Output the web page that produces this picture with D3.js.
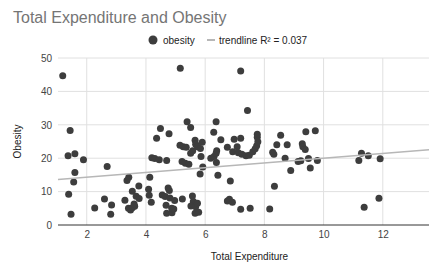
<!DOCTYPE html>
<html>
<head>
<meta charset="utf-8">
<script src="https://cdn.jsdelivr.net/npm/d3@7"></script>
<style>
  body { margin: 0; background: #fff; }
  svg { font-family: "Liberation Sans", Arial, sans-serif; }
</style>
</head>
<body>
<div id="chart"></div>
<script>
// total expenditure (x) and obesity (y)
const expenditure = [
  1.19, 1.44, 1.37, 1.60, 1.89, 1.60, 1.56, 1.39, 1.47, 2.27, 2.69, 2.60, 2.84, 2.81,
  3.29, 3.36, 3.42, 3.41, 3.54, 3.48, 3.62, 3.54, 3.67, 3.77, 3.76, 3.60,
  4.13, 4.09, 4.11, 4.18, 4.55, 4.65, 4.75, 4.79, 4.81, 4.68, 4.70, 4.88, 4.97, 4.94, 4.87,
  5.23, 5.57, 5.60, 5.52, 5.68, 5.74, 5.66, 5.78,
  5.16, 7.20, 7.43, 5.39, 5.51, 6.37, 4.49, 4.78, 4.36, 6.29, 6.53,
  5.66, 5.68, 5.74, 5.90, 5.84, 5.15, 5.26, 5.36, 5.51, 5.58,
  4.20, 4.30, 4.45, 4.70, 5.22, 5.33, 5.45, 5.86, 5.92, 5.83,
  6.19, 6.30, 6.39, 6.38, 6.37, 6.43, 6.75, 6.93, 7.08, 6.98, 7.20,
  7.12, 7.24, 7.38, 7.49, 7.61, 7.69, 7.74, 7.78, 7.76, 7.76,
  6.85, 6.75, 6.82, 6.92, 7.20, 7.52, 8.18, 8.34, 8.28, 8.32, 8.42, 8.55, 8.70, 8.77, 8.89,
  9.14, 9.23, 9.28, 9.30, 9.38, 9.40, 9.72, 9.49, 9.55, 9.79,
  11.19, 11.28, 11.51, 11.91, 11.37, 11.87
];
const obesity = [
  44.7, 28.3, 20.7, 21.3, 19.5, 15.7, 12.9, 9.2, 3.2, 5.1, 17.5, 7.8, 6.0, 3.2,
  7.4, 13.3, 14.3, 5.0, 5.2, 4.5, 5.6, 10.1, 8.6, 7.9, 11.7, 6.3,
  14.3, 10.7, 8.9, 6.8, 9.0, 8.5, 11.1, 10.3, 8.1, 5.9, 3.5, 3.7, 7.3, 4.8, 5.0,
  7.8, 8.7, 7.0, 5.7, 5.5, 6.5, 3.5, 3.8,
  46.9, 46.1, 34.3, 30.9, 29.2, 30.9, 28.9, 27.3, 26.0, 27.8, 25.5,
  25.4, 24.2, 23.4, 24.8, 22.9, 23.9, 23.4, 23.3, 21.5, 22.2,
  20.1, 19.9, 19.5, 19.3, 19.0, 18.5, 18.2, 20.5, 17.4, 15.3,
  20.0, 20.5, 22.2, 18.7, 21.5, 14.9, 23.3, 21.9, 23.4, 25.7, 26.0,
  21.6, 21.2, 20.7, 20.9, 21.9, 22.8, 23.7, 24.9, 26.3, 27.2,
  13.2, 7.2, 7.7, 6.8, 4.7, 5.0, 4.8, 11.6, 21.8, 21.2, 24.0, 26.9, 20.0, 24.0, 16.3,
  19.0, 19.2, 24.3, 23.4, 22.6, 27.9, 28.2, 19.9, 17.1, 19.3,
  19.3, 21.5, 20.7, 19.8, 5.3, 8.0
];
const xTicks = [2, 4, 6, 8, 10, 12];
const yTicks = [0, 10, 20, 30, 40, 50];
const xDomain = [1.03, 13.56];
const yDomain = [0, 50];
// linear trendline
const trendIntercept = 12.87;
const trendSlope = 0.71;
const trendLabel = 'trendline R² = 0.037';

const width = 429, height = 268;
const plotLeft = 58, plotRight = 429, plotTop = 58, plotBottom = 225;

const svg = d3.select('#chart').append('svg')
  .attr('width', width)
  .attr('height', height);

const x = d3.scaleLinear().domain(xDomain).range([plotLeft, plotRight]);
const y = d3.scaleLinear().domain(yDomain).range([plotBottom, plotTop]);

// title
svg.append('text')
  .attr('x', 13)
  .attr('y', 23)
  .attr('font-size', 16)
  .attr('fill', '#757575')
  .text('Total Expenditure and Obesity');

// gridlines
svg.append('g')
  .selectAll('line')
  .data(yTicks.filter(d => d > 0))
  .join('line')
  .attr('x1', plotLeft).attr('x2', plotRight)
  .attr('y1', d => y(d)).attr('y2', d => y(d))
  .attr('stroke', '#e0e0e0');

svg.append('g')
  .selectAll('line')
  .data(xTicks)
  .join('line')
  .attr('x1', d => x(d)).attr('x2', d => x(d))
  .attr('y1', plotTop).attr('y2', plotBottom)
  .attr('stroke', '#e0e0e0');

// y axis labels
const yAxis = d3.axisLeft(y).tickValues(yTicks).tickSize(0).tickPadding(6);
svg.append('g')
  .attr('transform', `translate(${plotLeft},0)`)
  .call(yAxis)
  .call(g => g.select('.domain').remove())
  .call(g => g.selectAll('text')
    .attr('font-size', 10)
    .attr('font-family', '"Liberation Sans", Arial, sans-serif')
    .attr('fill', '#444'));

// x axis labels
const xAxis = d3.axisBottom(x).tickValues(xTicks).tickSize(0).tickPadding(6);
svg.append('g')
  .attr('transform', `translate(0,${plotBottom})`)
  .call(xAxis)
  .call(g => g.select('.domain').remove())
  .call(g => g.selectAll('text')
    .attr('font-size', 10)
    .attr('font-family', '"Liberation Sans", Arial, sans-serif')
    .attr('fill', '#444'));

// baseline
svg.append('line')
  .attr('x1', plotLeft).attr('x2', plotRight)
  .attr('y1', y(0)).attr('y2', y(0))
  .attr('stroke', '#333')
  .attr('stroke-width', 1);

// axis titles
svg.append('text')
  .attr('x', (plotLeft + plotRight) / 2 + 6)
  .attr('y', 260)
  .attr('text-anchor', 'middle')
  .attr('font-size', 10)
  .attr('fill', '#222')
  .text('Total Expenditure');

svg.append('text')
  .attr('transform', `translate(21,${(plotTop + plotBottom) / 2}) rotate(-90)`)
  .attr('text-anchor', 'middle')
  .attr('font-size', 10)
  .attr('fill', '#222')
  .text('Obesity');

// points
const points = expenditure.map((d, i) => ({ x: d, y: obesity[i] }));
svg.append('g')
  .selectAll('circle')
  .data(points)
  .join('circle')
  .attr('cx', d => x(d.x))
  .attr('cy', d => y(d.y))
  .attr('r', 3.5)
  .attr('fill', '#3d3d3d');

// trendline
svg.append('line')
  .attr('x1', x(xDomain[0]))
  .attr('y1', y(trendIntercept + trendSlope * xDomain[0]))
  .attr('x2', x(xDomain[1]))
  .attr('y2', y(trendIntercept + trendSlope * xDomain[1]))
  .attr('stroke', '#b7b7b7')
  .attr('stroke-width', 1.5);

// legend
const legend = svg.append('g');
legend.append('circle')
  .attr('cx', 153).attr('cy', 40).attr('r', 4.5)
  .attr('fill', '#3d3d3d');
legend.append('text')
  .attr('x', 163).attr('y', 43.5)
  .attr('font-size', 10)
  .attr('fill', '#222')
  .text('obesity');
legend.append('line')
  .attr('x1', 207).attr('x2', 215)
  .attr('y1', 40).attr('y2', 40)
  .attr('stroke', '#b7b7b7')
  .attr('stroke-width', 2);
legend.append('text')
  .attr('x', 219).attr('y', 43.5)
  .attr('font-size', 10)
  .attr('fill', '#222')
  .text(trendLabel);
</script>
</body>
</html>
